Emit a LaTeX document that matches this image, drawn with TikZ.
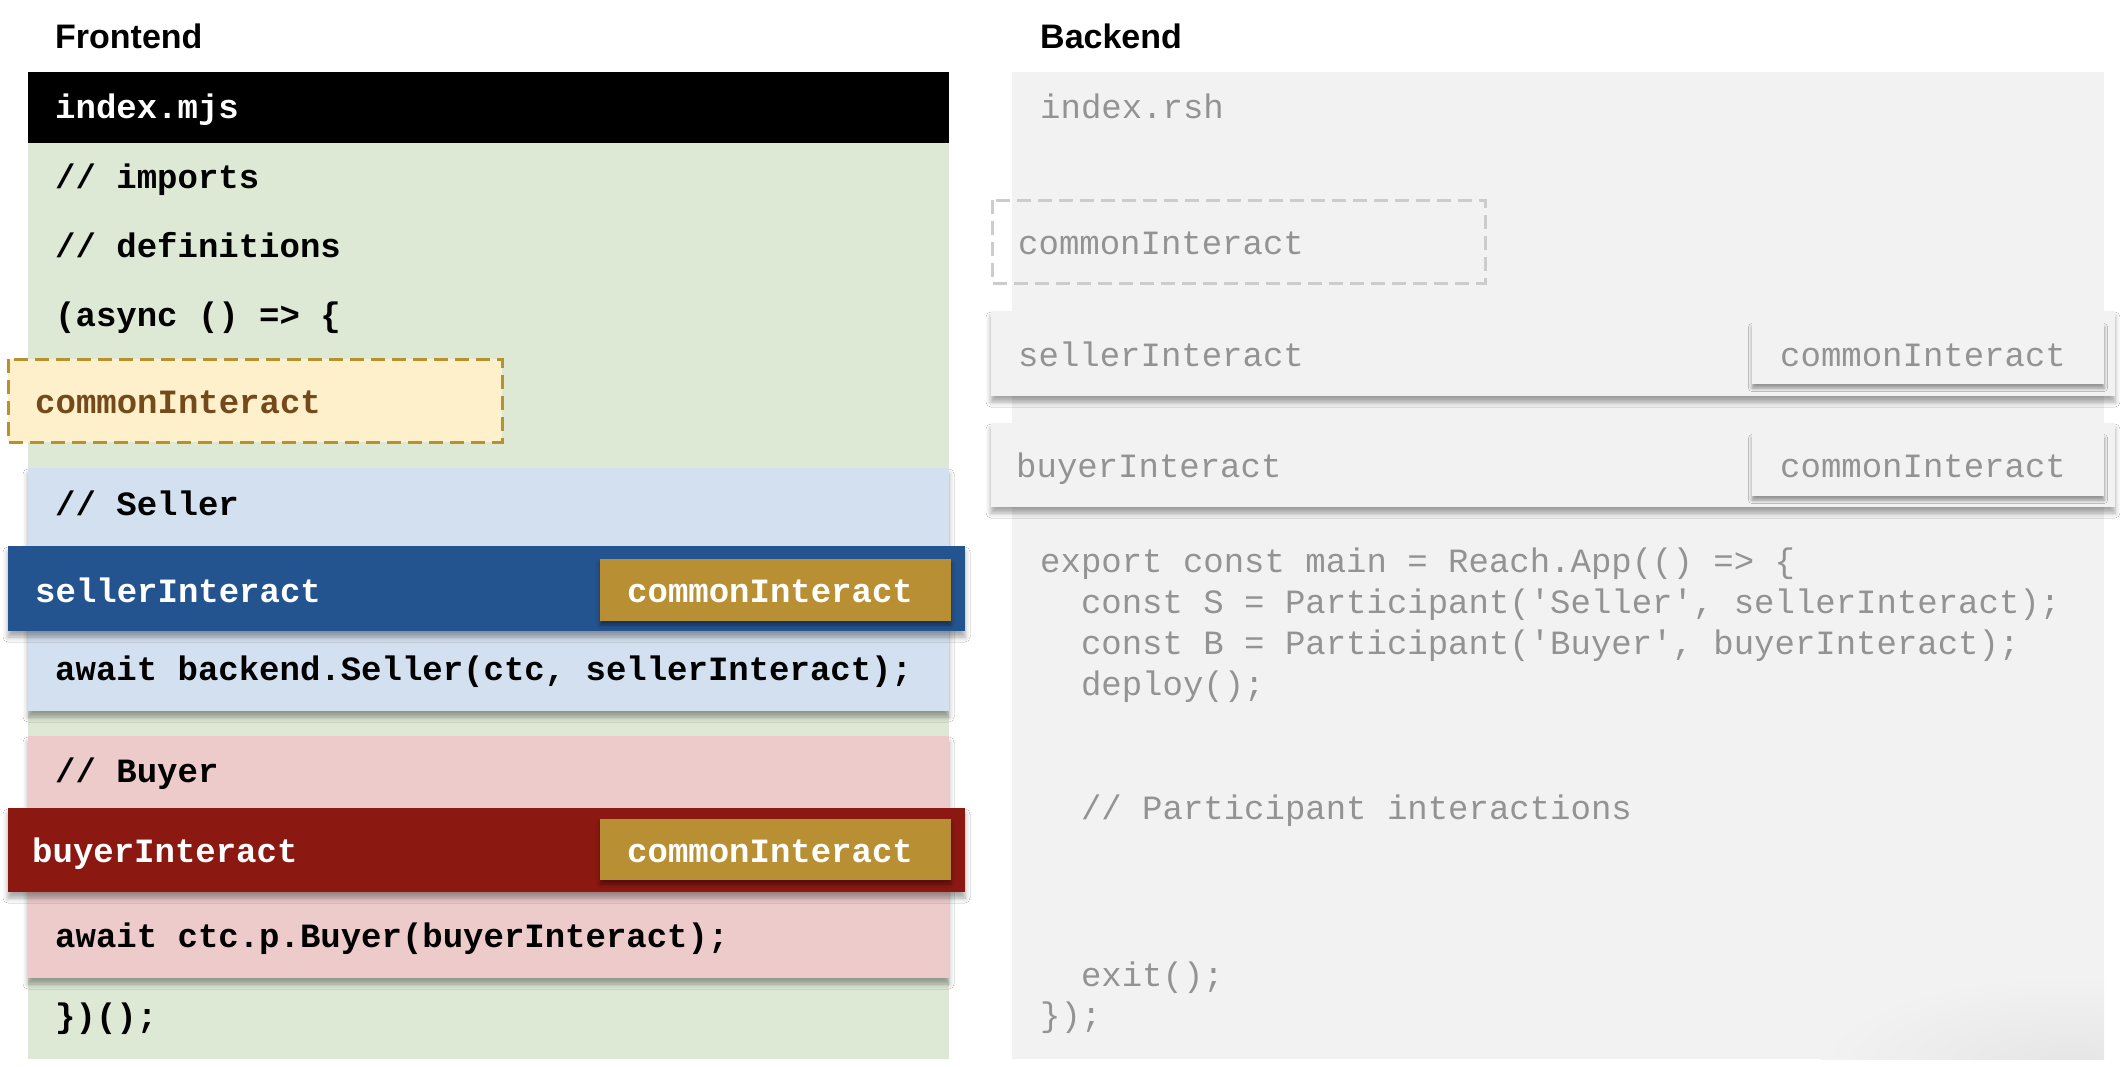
\documentclass[tikz,border=0pt]{standalone}
\usepackage{fontspec}
\setmainfont{Liberation Sans}
\newfontfamily\codefont{Liberation Mono}
\usetikzlibrary{shadows,shadows.blur}
\definecolor{fgreen}{HTML}{DDE8D5}
\definecolor{fblue}{HTML}{D3E0EF}
\definecolor{fpink}{HTML}{ECCBCA}
\definecolor{dblue}{HTML}{245490}
\definecolor{dred}{HTML}{8C1812}
\definecolor{gold}{HTML}{B88F32}
\definecolor{yfill}{HTML}{FDF0CB}
\definecolor{yborder}{HTML}{B8912F}
\definecolor{ytext}{HTML}{744A1A}
\definecolor{bpanel}{HTML}{F2F2F2}
\definecolor{btext}{HTML}{939393}
\definecolor{bdash}{HTML}{CCCCCC}
\begin{document}
\begin{tikzpicture}[x=1pt,y=-1pt,
  titletext/.style={font=\fontsize{34}{40}\selectfont\bfseries, anchor=base west, inner sep=0pt},
  fcode/.style={font=\fontsize{34}{40}\selectfont\codefont\bfseries, anchor=base west, inner sep=0pt},
  bcode/.style={font=\fontsize{34}{40}\selectfont\codefont, text=btext, anchor=base west, inner sep=0pt},
  softshadow/.style={blur shadow={shadow xshift=0pt, shadow yshift=-6pt, shadow blur radius=5pt, shadow opacity=35}},
  smallshadow/.style={blur shadow={shadow xshift=0pt, shadow yshift=-4pt, shadow blur radius=3.5pt, shadow opacity=40}}]
\useasboundingbox (0,0) rectangle (2120,1066);
\fill[white] (0,0) rectangle (2120,1066);

% ---------------- Frontend ----------------
\node[titletext] (ftitle) at (55,48) {Frontend};
\fill[fgreen] (28,143) rectangle (949,1059);
\fill[black] (28,72) rectangle (949,143);
\node[fcode, text=white] (fidx) at (55,118) {index.mjs};
\node[fcode] (fimp) at (55,188) {// imports};
\node[fcode] (fdef) at (55,257) {// definitions};
\node[fcode] (fasync) at (55,326) {(async () => \{};

\path[fill=yfill, draw=yborder, line width=3pt, dash pattern=on 14pt off 7pt] (8,359) rectangle (502,442);
\node[fcode, text=ytext] (fcommon) at (35,413) {commonInteract};

% Seller
\path[fill=fblue, softshadow] (28,468) rectangle (949,711);
\node[fcode] (fsellc) at (55,515) {// Seller};
\path[fill=dblue, softshadow] (8,546) rectangle (965,631);
\node[fcode, text=white] (fseller) at (35,602) {sellerInteract};
\path[fill=gold, smallshadow] (600,559) rectangle (951,621);
\node[fcode, text=white] (fsc) at (627,602) {commonInteract};
\node[fcode] (fawait1) at (55,680) {await backend.Seller(ctc, sellerInteract);};

% Buyer
\path[fill=fpink, softshadow] (28,736) rectangle (949,978);
\node[fcode] (fbuyc) at (55,782) {// Buyer};
\path[fill=dred, softshadow] (8,808) rectangle (965,892);
\node[fcode, text=white] (fbuyer) at (32,862) {buyerInteract};
\path[fill=gold, smallshadow] (600,819) rectangle (951,880);
\node[fcode, text=white] (fbc) at (627,862) {commonInteract};
\node[fcode] (fawait2) at (55,947) {await ctc.p.Buyer(buyerInteract);};
\node[fcode] (fend) at (55,1027) {\})();};

% ---------------- Backend ----------------
\node[titletext] (btitle) at (1040,48) {Backend};
\fill[bpanel] (1012,72) rectangle (2104,1059);
\begin{scope}
  \clip (1012,72) rectangle (2104,1059);
  \shade[inner color=black!10, outer color=bpanel] (2070,1066) ellipse (250 and 90);
\end{scope}
\node[bcode] (bidx) at (1040,118) {index.rsh};

\path[draw=bdash, line width=3pt, dash pattern=on 14pt off 7pt] (992,200) rectangle (1485,283);
\node[bcode] (bcommon) at (1018,254) {commonInteract};

\path[fill=bpanel, softshadow] (991,311) rectangle (2115,396);
\node[bcode] (bseller) at (1018,366) {sellerInteract};
\path[fill=bpanel, smallshadow] (1752,323) rectangle (2104,384);
\node[bcode] (bsc) at (1780,366) {commonInteract};

\path[fill=bpanel, softshadow] (991,423) rectangle (2115,507);
\node[bcode] (bbuyer) at (1016,477) {buyerInteract};
\path[fill=bpanel, smallshadow] (1752,434) rectangle (2104,496);
\node[bcode] (bbc) at (1780,477) {commonInteract};

\node[bcode] (bl1) at (1040,572) {export const main = Reach.App(() => \{};
\node[bcode] (bl2) at (1040,613) {\ \ const S = Participant('Seller', sellerInteract);};
\node[bcode] (bl3) at (1040,654) {\ \ const B = Participant('Buyer', buyerInteract);};
\node[bcode] (bl4) at (1040,695) {\ \ deploy();};
\node[bcode] (bl5) at (1040,819) {\ \ // Participant interactions};
\node[bcode] (bl6) at (1040,986) {\ \ exit();};
\node[bcode] (bl7) at (1040,1026) {\});};
\end{tikzpicture}
\end{document}
